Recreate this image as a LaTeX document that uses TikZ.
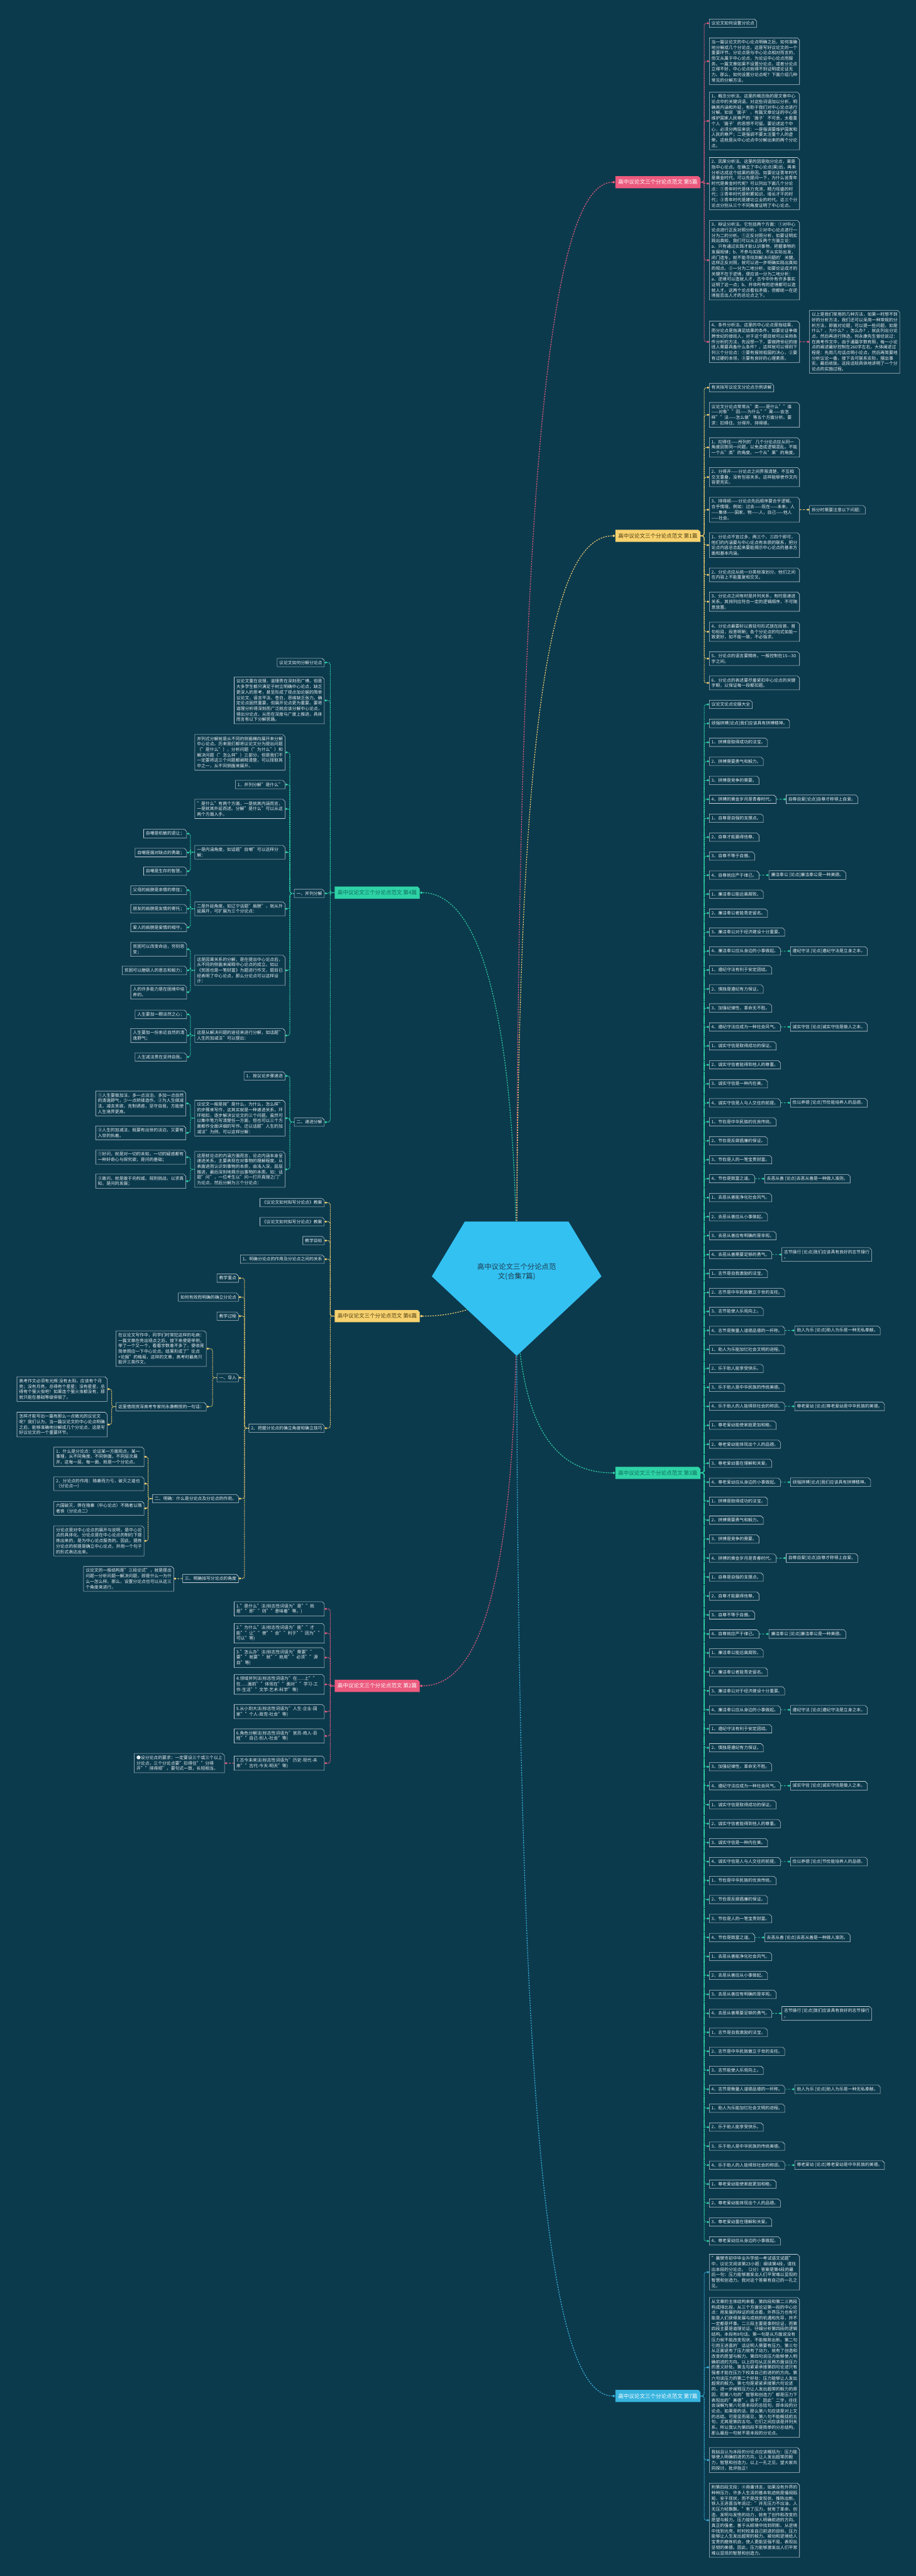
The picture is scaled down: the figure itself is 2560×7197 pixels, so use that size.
\documentclass[tikz,border=0pt]{standalone}
\usepackage{fontspec}
\setmainfont{Noto Sans CJK SC}
\XeTeXlinebreaklocale "zh"
\XeTeXlinebreakskip=0pt plus 1pt
\usetikzlibrary{positioning,shapes.misc,arrows.meta}

\definecolor{bg}{HTML}{0C3A4D}
\definecolor{edgec}{HTML}{C8D2D7}
\definecolor{txtc}{HTML}{E8EEF1}
\definecolor{pinkc}{HTML}{EC5A7E}
\definecolor{yelc}{HTML}{F8D26E}
\definecolor{grnc}{HTML}{2ED3A6}
\definecolor{bluc}{HTML}{38B4DF}
\definecolor{hubc}{HTML}{33C1F2}
\definecolor{hubtxt}{HTML}{1D3B4C}
\definecolor{darkyel}{HTML}{4A3B12}
\definecolor{darkgrn}{HTML}{0F6B58}

\newcommand\leaffont{\fontsize{12}{15.3}\selectfont}
\newcommand\topicfont{\fontsize{15}{18}\selectfont}

\tikzset{
  base/.style={chamfered rectangle, chamfered rectangle corners=north east,
    chamfered rectangle sep=3pt, inner xsep=3pt, inner ysep=3pt, line width=1pt},
  leaf/.style={base, draw=edgec, fill=bg, text=txtc, font=\leaffont, align=flush left, anchor=west},
  leafl/.style={leaf, anchor=east},
  para/.style={leaf, text width=240pt, align=flush left},
  paral/.style={para, anchor=east},
  twig/.style={leafl, text width=144pt},
  topic/.style={base, fill=#1, font=\topicfont, inner xsep=5pt, inner ysep=7pt},
  link/.style={draw=#1, line width=1.8pt, dash pattern=on 3pt off 2pt,
    rounded corners=6pt, -{Diamond[length=7pt,width=6pt]}},
  hlink/.style={draw=#1, line width=1.5pt, dash pattern=on 5pt off 4pt,
    -{Diamond[length=7pt,width=6pt]}},
  hublink/.style={draw=#1, line width=2pt, dash pattern=on 4pt off 3pt,
    -{Diamond[length=8pt,width=7pt]}}
}

\def\itemlist{{1、拼搏是取得成功的法宝。},{2、拼搏需要勇气和毅力。},{3、拼搏是竞争的需要。},{4、拼搏的黄金岁月是青春时代。},
{1、自尊是自强的支撑点。},{2、自尊才能赢得他尊。},{3、自尊不等于自傲。},{4、自尊就应严于律己。},
{1、廉洁奉公能远离腐败。},{2、廉洁奉公者能青史留名。},{3、廉洁奉公对于经济建设十分重要。},{4、廉洁奉公应从身边的小事做起。},
{1、遵纪守法有利于安定团结。},{2、慎独是遵纪有力保证。},{3、加强纪律性，革命无不胜。},{4、遵纪守法应成为一种社会风气。},
{1、诚实守信是取得成功的保证。},{2、诚实守信者能得到他人的尊重。},{3、诚实守信是一种内在美。},{4、诚实守信是人与人交往的前提。},
{1、节俭是中华民族的优良传统。},{2、节俭是反腐倡廉的保证。},{3、节俭是人的一笔宝贵财富。},{4、节俭是致富之道。},
{1、去恶从善能净化社会风气。},{2、去恶从善应从小事做起。},{3、去恶从善应有明确的是非观。},{4、去恶从善需要足够的勇气。},
{1、志节是自我激励的法宝。},{2、志节是中华民族傲立于世的支柱。},{3、志节能使人乐观向上。},{4、志节是衡量人道德品德的一杆称。},
{1、助人为乐能加忆社会文明的进程。},{2、乐于助人能享受快乐。},{3、乐于助人是中华民族的传统美德。},{4、乐于助人的人能得到社会的称颂。},
{1、尊老爱幼能使家庭更加和睦。},{2、尊老爱幼能体现出个人的品德。},{3、尊老爱幼重在理解和关爱。},{4、尊老爱幼应从身边的小事做起。}}
\def\headlist{{自尊自爱[论点]自尊才称得上自爱。},{廉洁奉公 [论点]廉洁奉公是一种美德。},{遵纪守法 [论点]遵纪守法是立身之本。},
{诚实守信 [论点]诚实守信是做人之本。},{俭以养德 [论点]节俭能培养人的品德。},{去恶从善 [论点]去恶从善是一种做人准则。},
{志节操行 [论点]我们应该具有良好的志节操行\\。},{助人为乐 [论点]助人为乐是一种无私奉献。},{尊老爱幼 [论点]尊老爱幼是中华民族的美德。},
{顽强拼搏[论点]我们应该具有拼搏精神。}}

\begin{document}
\begin{tikzpicture}[x=1pt,y=-1pt]
\useasboundingbox (0,0) rectangle (2560,7197);
\fill[bg] (0,0) rectangle (2560,7197);
\def\rx{1982}
\def\lx{907}

% branch nodes
\node[topic=pinkc, text=white, anchor=east] (b5) at (1958,509) {高中议论文三个分论点范文 第5篇};
\node[topic=yelc, text=darkyel, anchor=east] (b1) at (1958,1497) {高中议论文三个分论点范文 第1篇};
\node[topic=grnc, text=darkgrn, anchor=west] (b4) at (935,2494) {高中议论文三个分论点范文 第4篇};
\node[topic=yelc, text=darkyel, anchor=west] (b6) at (935,3677) {高中议论文三个分论点范文 第6篇};
\node[topic=grnc, text=darkgrn, anchor=east] (b3) at (1958,4115) {高中议论文三个分论点范文 第3篇};
\node[topic=pinkc, text=white, anchor=west] (b2) at (935,4710) {高中议论文三个分论点范文 第2篇};
\node[topic=bluc, text=white, anchor=east] (b7) at (1958,6694) {高中议论文三个分论点范文 第7篇};

% 5
\node[leaf] (a1) at (\rx,65) {议论文如何设置分论点};
\node[para] (a2) at (\rx,171) {当一篇议论文的中心论点明确之后，如何准确地分解成几个分论点，这是写好议论文的一个重要环节。分论点是与中心论点相对而言的，但又从属于中心论点，为论证中心论点而服务。一篇文章如果不设置分论点，或者分论点立得不好，中心论点就得不到证明或论证无力。那么，如何设置分论点呢？下面介绍几种常见的分解方法。};
\node[para] (a3) at (\rx,338) {1、概念分析法。这里的概念指的是文章中心论点中的关键词语，对这些词语加以分析，明确其内涵和外延，有助于我们对中心论点进行分解。如说‘面子’，有篇文章论证的中心是维护国家人民尊严的‘面子’不可丢，太看重个人‘面子’的思想不可留。要论述这个中心，必须分两层来说：一是强调要维护国家和人民的尊严；二是强调不要太注重个人的虚荣。这就是从中心论点中分解出来的两个分论点。};
\node[para] (a4) at (\rx,513) {2、因果分析法。这里的因是指分论点，果是指中心论点。在确立了中心论点(果)后，再来分析达成这个结果的原因。如要论证青年时代是黄金时代，可以先提问一下，为什么说青年时代是黄金时代呢？可以列出下面几个分论点：①青年时代是体力充沛，精力旺盛的时代；②青年时代是积累知识，增长才干的时代；③青年时代是建功立业的时代。这三个分论点分别从三个不同角度证明了中心论点。};
\node[para] (a5) at (\rx,727) {3、辩证分析法。它包括两个方面：①对中心论点进行正反对照分析，②对中心论点进行一分为二的分析。①正反对照分析，如要证明实践出真知，我们可以从正反两个方面立论：a、只有通过实践才能认识事物，把握事物的发展规律；b、不参与实践，不从实际出发，闭门造车，就不能寻找到解决问题的’关键。这样正反对照，就可以进一步明确实践出真知的观点。②一分为二地分析，如要论证成才的关键不在于逆境，便应该一分为二地分析：a、逆境可以造就人才，古今中外有许多事实证明了这一点；b、并非所有的逆境都可以造就人才。这两个论点看似矛盾，但都统一在逆境能否出人才的总论点之下。};
\node[para] (a6) at (\rx,955) {4、条件分析法。这里的中心论点是指结果，而分论点是指满足结果的条件。如要论证争做跨世纪的接班人，对于这个题目就可以采用条件分析的方法，先设想一下，要做跨世纪的接班人需要具备什么条件？，这样就可以得到下列三个分论点：①要有报效祖国的决心，②要有过硬的本领，③要有良好的心理素质。};
\node[para, right=27pt of a6] (a7) {以上是我们常用的几种方法，如果一时想不到好的分析方法，我们还可以采用一种常规的分析方法，即面对论题，可以提一些问题，如是什么？，为什么？，怎么办？，就此列出分论点，然后再进行筛选。何永康先生曾经说过：在高考作文中，由于通篇字数有限，每一小论点的阐述最好控制在260字左右，大体阐述过程是：先用几句话点明小论点，然后再简要地分析议论一番，接下去可联系实际，摆出事实，最后收拢。这段话较具体地讲明了一个分论点的实施过程。};

% 1
\node[leaf] (c1) at (\rx,1083) {有关拟写议论文分论点示例讲解};
\node[para] (c2) at (\rx,1159) {议论文分论点常常从"类——是什么""谁——对象""因——为什么""果——会怎样""法——怎么做"等五个方面分析。要求：扣得住、分得开、排得顺。};
\node[para] (c3) at (\rx,1250) {1、扣得住——所列的’几个分论点应从同一角度回答同一问题，以免造成逻辑混乱。不能一个从"类"的角度，一个从"果"的角度。};
\node[para] (c4) at (\rx,1333) {2、分得开——分论点之间界限清楚，不互相交叉重叠，没有包容关系。这样能够使作文内容更充实。};
\node[para] (c5) at (\rx,1424) {3、排得顺——分论点先后顺序要合乎逻辑，合乎情理。例如：过去——现在——未来，人——集体——国家，物——人，自己——他人——社会。};
\node[leaf, right=27pt of c5] (c5a) {拆分时需要注意以下问题：};
\node[para] (c6) at (\rx,1523) {1、分论点不宜过多，两三个、三四个即可，他们的内涵要与中心论点有本质的联系，把分论点内容总合起来要能揭示中心论点的基本方面和基本内涵。};
\node[para] (c7) at (\rx,1606) {2、分论点应从统一分类标准划分，他们之间在内容上不能重复和交叉。};
\node[para] (c8) at (\rx,1681) {3、分论点之间有时是并列关系，有时是递进关系，其排列应符合一定的逻辑顺序，不可随意放置。};
\node[para] (c9) at (\rx,1765) {4、分论点最要好以首括句形式放在段首，首句标目，段意明晰；各个分论点的句式如能一致更好，如不能一致，不必强求。};
\node[para] (c10) at (\rx,1840) {5、分论点的语言要精练，一般控制在15—30字之间。};
\node[para] (c11) at (\rx,1908) {6、分论点的表述要尽量紧扣中心论点的关键字眼，以保证每一段都扣题。};

% 3
\node[leaf] (t0) at (\rx,1968) {议论文论点论据大全};
\node[leaf] (t1) at (\rx,2021) {顽强拼搏[论点]我们应该具有拼搏精神。};
\foreach \r in {0,1}{
  \foreach \t [count=\k from 0] in \itemlist {
    \pgfmathtruncatemacro\i{2+40*\r+\k}
    \node[leaf] (t\i) at (\rx,{1968+53*\i}) {\t};
  }
}
\foreach \r in {0,1}{
  \foreach \h [count=\j] in \headlist {
    \pgfmathtruncatemacro\p{5+4*(10*\r+\j-1)}
    \ifnum\p<80
      \node[leaf, right=27pt of t\p] (h\p) {\h};
      \draw[hlink=grnc] (t\p) -- (h\p);
    \fi
  }
}

% 7
\node[para] (g1) at (\rx,6348) {"襄樊市初中毕业升学统一考试语文试题"中，议论文阅读第23小题：细读第4段，请找出本段的分论点。（2分）答案是第4段的最后一句：压力能够激发出人们平常难以显现的智慧和创造力。我对这个答案有自己的一孔之见。};
\node[para] (g2) at (\rx,6614) {从文章的主体结构来看，第四段和第二三两段构成排比段，从三个方面论证第一段的中心论点：用发展的辩证的观点看，外界压力也有可能是人们获得发展与成就的机遇和先导，并不一定都是坏事。二三段主要是事例论证，而第四段主要是道理论证。仔细分析第四段的逻辑结构。本段有8句话。第一句是从方面说没有压力就不能改变现状，不能推陈出新。第二句引用王进喜的’话证明人需要有压力。第三句从正面说有了压力就有了动力，就有了创造和改变的愿望与毅力。第四句说压力能够使人明确前进的方向。以上四句从正反两方面谈压力的意义好处。第五句紧紧承接第四句论述只有强者才能在压力下校准自己前进的的方向。第六句谈压力的第二个好处：压力能够让人发出超常的毅力。第七句是紧紧承接第六句论述的，进一步阐释压力让人发出超常的毅力的原因，而第八句的"智慧和创造力"都是压力下表现出的"美德"。由于"因此"二字，往往会误解为第八句是本段的总括句，即本段的分论点。如果是的话，那么第八句应该是对上文的总结。可是显而易见，第八句不能概括前五句，尤其是第四五句。它们之间应该是并列关系。所以我认为第四段不是简单的分总结构。那么最后一句就不是本段的分论点。};
\node[para] (g3) at (\rx,6873) {我姑且认为本段的分论点应该概括为：压力能够使人明确前进的方向，让人发出超常的毅力，智慧和创造力。以上一孔之见，望大家共同探讨，批评指正！};
\node[para] (g4) at (\rx,7041) {附第四段文段：④毋庸讳言，如果没有外界的种种压力，许多人生活的基本轨迹就是循规蹈矩、安于现状，而不是改变现状、推陈出新。铁人王进喜当年说过："井无压力不出油，人无压力轻飘飘。"有了压力，就有了革命、创造、发明与发愤的动力，就有了创作和改变的愿望与毅力。压力能够使人明确前进的方向。真正的强者，善于从顺境中找到阴影、从逆境中找到光亮，时时校准自己前进的目标。压力能够让人生发出超常的毅力。被动和逆境给人宝贵的磨炼机会，使人更能坚强不屈，表现出坚韧的美德。因此，压力能够激发出人们平常难以显现的智慧和创造力。};

% 4
\node[leafl] (d1) at (\lx,1851) {议论文如何分解分论点};
\node[paral] (d2) at (\lx,1957) {议论文重在说理，道理贵在深刻而广博。但是大多学生都只满足于树立明确中心论点，缺乏更深入的思考，甚至形成了观点加论据的简单议论文，语言平淡、苍白，思维缺乏张力。确定论点固然重要，但展开论点更为重要。要将道理分析得深刻而广泛就应该分解中心论点，得出分论点，从而在深度与广度上推进，具体而言有以下分解思路。};
\node[leafl] (d3) at (\lx,2496) {一、并列分解};
\node[leafl] (d4) at (\lx,3135) {二、递进分解};
\node[paral] (e1) at (797,2102) {并列式分解就是从不同的侧面横向展开来分解中心论点。历来我们都将议论文分为提出问题（"是什么"），分析问题（"为什么"）和解决问题（"怎么样"）三部分，但是我们不一定要将这三个问题都阐释清楚，可以择取其中之一，从不同侧面来展开。};
\node[leafl] (e2) at (797,2192) {1．并列分解"是什么"};
\node[paral] (e3) at (797,2260) {"是什么"有两个方面，一是就其内涵而言，一是就其外延而述。分解"是什么"可以从这两个方面入手。};
\node[paral] (e4) at (797,2381) {一是内涵角度。如话题"自嘲"可以这样分解：};
\node[paral] (e5) at (797,2539) {二是外延角度。如辽宁话题"肩膀"，就从外延展开，可扩展为三个分论点：};
\node[paral] (e6) at (797,2711) {这是因果关系的分解，是在提出中心论点后，从不同的侧面来阐释中心论点的成立。如以《贫困也是一笔财富》为题进行作文，题目已经表明了中心论点，那么分论点可以这样设计：};
\node[paral] (e7) at (797,2893) {这是从解决问题的途径来进行分解，如话题"人生的加减法"可以提出：};
\node[leafl] (e4a) at (522,2329) {自嘲是机敏的退让；};
\node[leafl] (e4b) at (522,2382) {自嘲是面对缺点的勇敢；};
\node[leafl] (e4c) at (522,2434) {自嘲是生存的智慧。};
\node[leafl] (e5a) at (522,2487) {父母的肩膀是亲情的牵挂；};
\node[leafl] (e5b) at (522,2539) {朋友的肩膀是友情的寄托；};
\node[leafl] (e5c) at (522,2591) {爱人的肩膀是爱情的相守。};
\node[twig] (e6a) at (522,2652) {贫困可以改变命运，穷则思变；};
\node[leafl] (e6b) at (522,2711) {贫困可以磨砺人的意志和毅力；};
\node[twig] (e6c) at (522,2772) {人的许多能力是在困境中培养的。};
\node[leafl] (e7a) at (522,2834) {人生要加一颗淡然之心；};
\node[twig] (e7b) at (522,2893) {人生要加一份亲近自然的清逸野气；};
\node[leafl] (e7c) at (522,2953) {人生减法贵在坚持自我。};
\node[leafl] (f1) at (797,3006) {1．按议论步骤递进};
\node[paral] (f2) at (797,3124) {议论文一般是按"是什么，为什么，怎么样"的步骤来写作，这其实就是一种递进关系，环环相扣，逐步解决议论文的三个问题。虽然可以集中笔力写清楚任一方面，但也可以三个方面都作全面详细的写作。还以话题"人生的加减法"为例，可以这样分解：};
\node[paral] (f3) at (797,3267) {这是就论点的内涵方面而言，论点内涵本身呈递进关系，主要表现在对事物的理解程度，从表面进而认识到事物的本质，由浅入深，层层推进，最后深刻地揭示出事物的本质。如：话题"问"，一位考生以"问一打开真理之门"为论点，然后分解为三个分论点：};
\node[paral] (f2a) at (520,3083) {①人生要做加法，多一点淡泊，多加一点自然的清逸野气，少一点矫揉造作。②为人生做减法，减去贪欲，克制诱惑，坚守自我，方能使人生境界更高。};
\node[paral] (f2b) at (520,3165) {③人生的加减法，既要有出世的淡泊，又要有入世的执着。};
\node[paral] (f3a) at (520,3233) {①好问，就是对一切的未知，一切的疑惑都有一种好奇心与探究欲，是问的基础；};
\node[paral] (f3b) at (520,3300) {②敢问，就是敢于向权威、规则挑战，以求真知，是问的发展；};

% 6
\node[leafl] (k1) at (\lx,3360) {《议论文如何拟写分论点》教案};
\node[leafl] (k2) at (\lx,3413) {《议论文如何拟写分论点》教案};
\node[leafl] (k3) at (\lx,3466) {教学目标};
\node[leafl] (k4) at (\lx,3518) {1、明确分论点的作用及分论点之间的关系};
\node[leafl] (k5) at (\lx,3990) {2、把握分论点的确立角度和确立技巧};
\node[leafl] (i1) at (667,3571) {教学重点};
\node[leafl] (i2) at (667,3624) {如何有效而明确的确立分论点};
\node[leafl] (i3) at (667,3677) {教学过程};
\node[leafl] (i4) at (667,3849) {一、导入};
\node[leafl] (i5) at (667,4187) {二、明确：什么是分论点及分论点的作用。};
\node[leafl] (i6) at (667,4410) {三、明确拟写分论点的角度};
\node[paral] (j1) at (577,3768) {在议论文写作中，同学们时常犯这样的毛病：一篇文章在亮出观点之后，接下来便是举例，举了一个又一个，看看字数差不多了，便收尾简单照应一下中心论点。结果形成了"论点+论据"的格局，这样的文章，高考时最高只能评三类作文。};
\node[leafl] (j2) at (577,3930) {这里借用资深高考专家何永康教授的一句话：};
\node[paral] (j2a) at (300,3881) {高考作文必须有光辉:没有太阳，应该有个月亮；没有月亮，总得有个星星；没有星星，总得有个萤火虫吧！如果连个萤火虫都没有，那就只能在基础等级徘徊了。};
\node[paral] (j2b) at (300,3980) {怎样才能写出一篇有那么一点微光的议论文呢？我们认为，当一篇议论文的中心论点明确之后，能够准确地分解成几个分论点，这是写好议论文的一个重要环节。};
\node[paral] (l1) at (403,4070) {1．什么是分论点：论证某一方面观点，某一事理，从不同角度，不同侧面，不同层次展开，这每一层、每一面，就是一个分论点。};
\node[paral] (l2) at (403,4145) {2．分论点的作用：赂秦而力亏，破灭之道也（分论点一）};
\node[paral] (l3) at (403,4214) {六国破灭，弊在赂秦（中心论点）不赂者以赂者丧（分论点二）};
\node[paral] (l4) at (403,4305) {分论点是对中心论点的展开与说明，是中心论点的具体化。分论点是在中心论点的制约下提炼出来的，是为中心论点服务的。因此，提炼分论点的前提是确立中心论点，并用一个句子的形式表达出来。};
\node[paral] (m1) at (486,4411) {议论文的一般结构是"三段论式"，就是提出问题一分析问题一解决问题，即是什么一为什么一怎么样。那么，设置分论点也可以从这三个角度来进行。};

% 2
\node[paral] (n1) at (\lx,4495) {1."是什么"法(标志性词语为"是""就是""即""则""意味着"等。)};
\node[paral] (n2) at (\lx,4563) {2."为什么"法(标志性词语为"能""才能""让""使""会""利于""因为""可以"等)};
\node[paral] (n3) at (\lx,4631) {3."怎么办"法(标志性词语为"需要""要""就要""就""就用""必须""源自"等)};
\node[paral] (n4) at (\lx,4706) {4.领域并列法(标志性词语为"在......上""在......面前""体现在""面对""学习-工作-生活""文学-艺术-科学"等)};
\node[paral] (n5) at (\lx,4782) {5.从小到大法(标志性词语为"人生-企业-国家""个人-政党-社会"等)};
\node[paral] (n6) at (\lx,4850) {6.角色分解法(标志性词语为"官员-商人-百姓""自己-别人-社会"等)};
\node[paral] (n7) at (\lx,4926) {7.古今未来法(标志性词语为"历史-现代-未来""古代-今天-明天"等)};
\node[paral, left=26pt of n7] (o1) {●设分论点的要求：一定要设三个或三个以上分论点，三个分论点要"扣得住""分得开""排得顺"，要句式一致，长短相当。};

% edges, right side
\foreach \c in {a1,a2,a3,a4,a5,a6} \draw[link=pinkc] (b5.east) -- ++(10,0) |- (\c.west);
\draw[hlink=pinkc] (a6) -- (a7);
\foreach \c in {c1,c2,c3,c4,c5,c6,c7,c8,c9,c10,c11} \draw[link=yelc] (b1.east) -- ++(10,0) |- (\c.west);
\draw[hlink=yelc] (c5) -- (c5a);
\foreach \i in {0,...,81} \draw[link=grnc] (b3.east) -- ++(10,0) |- (t\i.west);
\foreach \c in {g1,g2,g3,g4} \draw[link=bluc] (b7.east) -- ++(10,0) |- (\c.west);

% edges, left side
\foreach \c in {d1,d2,d3,d4} \draw[link=grnc] (b4.west) -- ++(-12,0) |- (\c.east);
\foreach \c in {e1,e2,e3,e4,e5,e6,e7} \draw[link=grnc] (d3.west) -- ++(-12,0) |- (\c.east);
\foreach \p in {e4,e5,e6,e7}
  \foreach \s in {a,b,c} \draw[link=grnc] (\p.west) -- ++(-12,0) |- (\p\s.east);
\foreach \c in {f1,f2,f3} \draw[link=grnc] (d4.west) -- ++(-12,0) |- (\c.east);
\foreach \c in {f2a,f2b} \draw[link=grnc] (f2.west) -- ++(-12,0) |- (\c.east);
\foreach \c in {f3a,f3b} \draw[link=grnc] (f3.west) -- ++(-12,0) |- (\c.east);
\foreach \c in {k1,k2,k3,k4,k5} \draw[link=yelc] (b6.west) -- ++(-12,0) |- (\c.east);
\foreach \c in {i1,i2,i3,i4,i5,i6} \draw[link=yelc] (k5.west) -- ++(-12,0) |- (\c.east);
\foreach \c in {j1,j2} \draw[link=yelc] (i4.west) -- ++(-12,0) |- (\c.east);
\foreach \c in {j2a,j2b} \draw[link=yelc] (j2.west) -- ++(-12,0) |- (\c.east);
\foreach \c in {l1,l2,l3,l4} \draw[link=yelc] (i5.west) -- ++(-12,0) |- (\c.east);
\draw[hlink=yelc] (i6) -- (m1);
\foreach \c in {n1,n2,n3,n4,n5,n6,n7} \draw[link=pinkc] (b2.west) -- ++(-12,0) |- (\c.east);
\draw[hlink=pinkc] (n7) -- (o1);

% centre
\coordinate (hc) at (1444,3600);
\draw[hublink=pinkc] (hc) .. controls (1444,1300) and (1540,509) .. (b5.west);
\draw[hublink=yelc] (hc) .. controls (1444,2000) and (1540,1497) .. (b1.west);
\draw[hublink=grnc] (hc) .. controls (1444,2750) and (1320,2494) .. (b4.east);
\draw[hublink=yelc] (hc) .. controls (1330,3660) and (1260,3677) .. (b6.east);
\draw[hublink=grnc] (hc) .. controls (1444,4000) and (1560,4115) .. (b3.west);
\draw[hublink=pinkc] (hc) .. controls (1444,4500) and (1320,4710) .. (b2.east);
\draw[hublink=bluc] (hc) .. controls (1444,6000) and (1540,6694) .. (b7.west);
\fill[hubc] (1299,3413) -- (1589,3413) -- (1681,3566) -- (1444,3788) -- (1207,3566) -- cycle;
\node[font=\fontsize{20}{26}\selectfont, text=hubtxt, align=center] (hub) at (1444,3553) {高中议论文三个分论点范\\文(合集7篇)};
\end{tikzpicture}
\end{document}
